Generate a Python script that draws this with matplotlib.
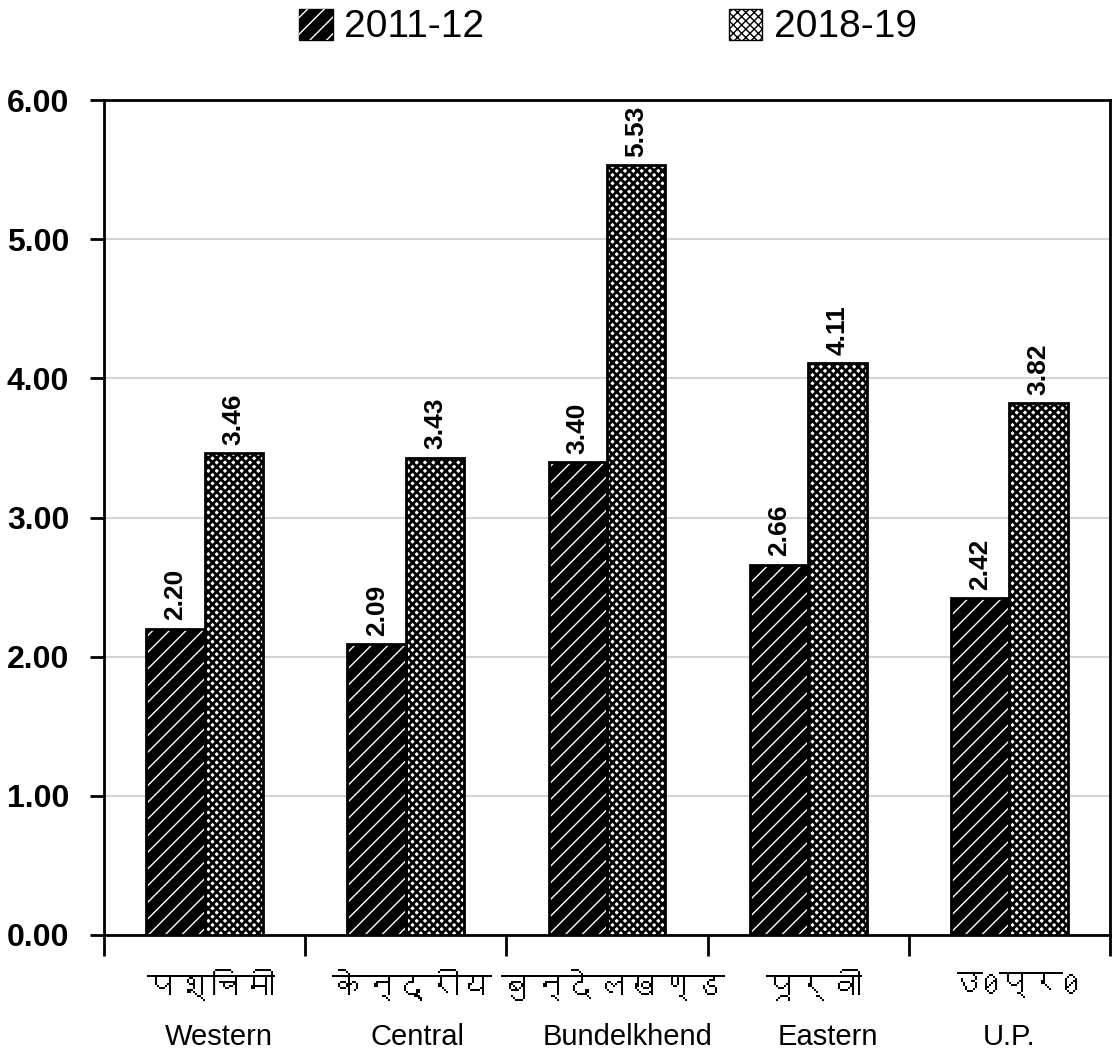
import matplotlib
matplotlib.use("Agg")
import matplotlib.pyplot as plt
import matplotlib.font_manager as fm
from matplotlib.ft2font import FT2Font
from matplotlib.patches import Rectangle
from matplotlib.legend_handler import HandlerTuple
from matplotlib.transforms import blended_transform_factory
import numpy as np

# ---------------- data ----------------
regions_hi = ["पश्चिमी", "केन्द्रीय", "बुन्देलखण्ड", "पूर्वी", "उ0प्र0"]
regions_en = ["Western", "Central", "Bundelkhend", "Eastern", "U.P."]
series_names = ["2011-12", "2018-19"]
values_2011 = [2.20, 2.09, 3.40, 2.66, 2.42]
values_2018 = [3.46, 3.43, 5.53, 4.11, 3.82]
y_ticks = [0, 1, 2, 3, 4, 5, 6]

# ---------------- fonts ----------------
def find_family(ch):
    seen = set()
    for f in fm.fontManager.ttflist:
        if f.fname in seen:
            continue
        seen.add(f.fname)
        try:
            if ord(ch) in FT2Font(f.fname).get_charmap():
                return f.name
        except Exception:
            pass
    return None

deva = find_family("प")
deva_family = [deva, "DejaVu Sans"] if deva else ["DejaVu Sans"]
main_family = ["Liberation Sans", "DejaVu Sans"]
plt.rcParams["font.family"] = main_family

W, H = 1112, 1054
fig = plt.figure(figsize=(W / 100, H / 100), dpi=100)
ax = fig.add_axes([104 / W, 1 - 935 / H, (1110 - 104) / W, (935 - 100) / H])

x = np.arange(len(regions_en))
bw = 0.29
dark_hatch = "//"
light_hatch = "xxxx"

# dark bars: black fill with thin white diagonal hatch
ax.bar(x - bw / 2, values_2011, bw, color="black", edgecolor="black", linewidth=0, zorder=3)
with plt.rc_context({"hatch.linewidth": 1.0}):
    ax.bar(x - bw / 2, values_2011, bw, facecolor="none", edgecolor="white",
           hatch=dark_hatch, linewidth=0, zorder=4)
ax.bar(x - bw / 2, values_2011, bw, facecolor="none", edgecolor="black", linewidth=2, zorder=5)

# light bars: white fill with dense black pattern
with plt.rc_context({"hatch.linewidth": 2.0}):
    ax.bar(x + bw / 2, values_2018, bw, color="white", edgecolor="black",
           hatch=light_hatch, linewidth=0, zorder=3)
ax.bar(x + bw / 2, values_2018, bw, facecolor="none", edgecolor="black", linewidth=2, zorder=5)

# value labels
for xs, vals in ((x - bw / 2, values_2011), (x + bw / 2, values_2018)):
    for xi, v in zip(xs, vals):
        ax.annotate(f"{v:.2f}", (xi, v), xytext=(0, 6), textcoords="offset points",
                    rotation=90, ha="center", va="bottom", fontsize=19, fontweight="bold")

ax.set_xlim(-0.5, len(regions_en) - 0.5)
ax.set_ylim(0, 6)
ax.set_yticks(y_ticks)
ax.set_yticklabels([f"{t:.2f}" for t in y_ticks], fontsize=23, fontweight="bold")
ax.tick_params(axis="y", direction="out", length=10, width=2, pad=15)
ax.set_xticks(np.arange(-0.5, len(regions_en)))
ax.set_xticklabels([])
ax.tick_params(axis="x", direction="out", length=15, width=2)
ax.yaxis.grid(True, color="#d4d4d4", linewidth=1.5, zorder=0)
ax.set_axisbelow(True)
for s in ax.spines.values():
    s.set_linewidth(2)

trans = blended_transform_factory(ax.transData, ax.transAxes)
en_offsets = [0.07, 0.06, 0.10, 0.10, 0.0]
for i, (hi, en) in enumerate(zip(regions_hi, regions_en)):
    ax.text(i + 0.03, -0.06, hi, transform=trans, ha="center", va="center",
            fontsize=23, family=deva_family)
    ax.text(i + en_offsets[i], -0.122, en, transform=trans, ha="center", va="center",
            fontsize=21)

# legend
with plt.rc_context({"hatch.linewidth": 1.0}):
    h1 = (Rectangle((0, 0), 1, 1, facecolor="black", edgecolor="black"),
          Rectangle((0, 0), 1, 1, facecolor="none", edgecolor="white", hatch=dark_hatch, linewidth=0))
with plt.rc_context({"hatch.linewidth": 2.0}):
    h2 = Rectangle((0, 0), 1, 1, facecolor="white", edgecolor="black", hatch=light_hatch, linewidth=1)
fig.legend([h1, h2], series_names, loc="center", bbox_to_anchor=(0.547, 1 - 27 / H),
           ncol=2, frameon=False, fontsize=28, handlelength=0.85, handleheight=0.85,
           handletextpad=0.3, columnspacing=6.3,
           handler_map={tuple: HandlerTuple(ndivide=1, pad=0)})

fig.savefig("out.png", dpi=100)
